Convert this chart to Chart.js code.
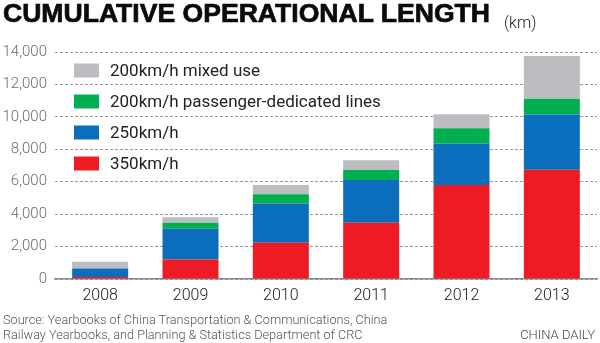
<!DOCTYPE html>
<html>
<head>
<meta charset="utf-8">
<script src="https://cdn.jsdelivr.net/npm/chart.js@4/dist/chart.umd.min.js"></script>
<style>
  html, body { margin: 0; padding: 0; background: #fff; }
  #wrap { position: relative; width: 600px; height: 343px; overflow: hidden; }
  #chart { position: absolute; left: 0; top: 0; }
  #title { position: absolute; left: 3px; top: -2px; white-space: nowrap; line-height: 30px;
           font-family: "Liberation Sans", Arial, sans-serif;
           font-weight: 700; font-size: 26px; color: #0a0a0a;
           -webkit-text-stroke: 0.7px #0a0a0a; transform-origin: 0 0; }
  #unit { position: absolute; left: 504px; top: 13px; font-family: Roboto, sans-serif;
          font-weight: 300; font-size: 16px; color: #222; }
  #source { position: absolute; left: 3px; top: 312px; font-family: Roboto, sans-serif;
            font-weight: 300; font-size: 12.7px; line-height: 15px; color: #555; }
  #brand { position: absolute; right: 5px; top: 327px; font-family: Roboto, sans-serif;
           font-weight: 300; font-size: 13px; line-height: 15px; color: #444; }
</style>
</head>
<body>
<div id="wrap">
  <canvas id="chart" width="600" height="343"></canvas>
  <div id="title">CUMULATIVE OPERATIONAL LENGTH</div>
  <div id="unit">(km)</div>
  <div id="source">Source: Yearbooks of China Transportation &amp; Communications, China<br>Railway Yearbooks, and Planning &amp; Statistics Department of CRC</div>
  <div id="brand">CHINA DAILY</div>
</div>
<script>
// Données (km)
const years = ['2008', '2009', '2010', '2011', '2012', '2013'];
const speed350 = [120, 1200, 2230, 3470, 5790, 6740];
const speed250 = [530, 1900, 2430, 2630, 2570, 3410];
const passenger200 = [0, 370, 560, 620, 940, 970];
const mixed200 = [410, 345, 570, 600, 860, 2630];
const yTicks = [0, 2000, 4000, 6000, 8000, 10000, 12000, 14000];

// Ajuster le titre à la largeur voulue
const title = document.getElementById('title');
const tw = title.getBoundingClientRect().width;
title.style.transform = 'scaleX(' + (487 / tw) + ')';

// Légende dessinée dans la zone du graphique
const legendInside = {
    id: 'legendInside',
    afterDraw(chart) {
        const ctx = chart.ctx;
        const items = chart.data.datasets.slice().reverse();
        ctx.save();
        ctx.font = '17px Roboto, sans-serif';
        ctx.textBaseline = 'middle';
        items.forEach((ds, i) => {
            const y = 70.5 + i * 31;
            ctx.fillStyle = ds.backgroundColor;
            ctx.fillRect(74, y - 7, 25, 14);
            ctx.fillStyle = '#222';
            ctx.fillText(ds.label, 110, y + 1);
        });
        ctx.restore();
    }
};

const ctx = document.getElementById('chart').getContext('2d');
new Chart(ctx, {
    type: 'bar',
    data: {
        labels: years,
        datasets: [
            { label: '350km/h', data: speed350, backgroundColor: '#ED1C24' },
            { label: '250km/h', data: speed250, backgroundColor: '#0A6EBD' },
            { label: '200km/h passenger-dedicated lines', data: passenger200, backgroundColor: '#00B04F' },
            { label: '200km/h mixed use', data: mixed200, backgroundColor: '#BCBDC0' }
        ]
    },
    options: {
        responsive: false,
        animation: false,
        layout: { padding: { top: 52, right: 3, bottom: 38, left: 0 } },
        plugins: { legend: { display: false }, tooltip: { enabled: false } },
        datasets: { bar: { categoryPercentage: 1, barPercentage: 0.62 } },
        scales: {
            x: {
                stacked: true,
                grid: { display: false, drawTicks: false },
                border: { display: true, color: '#8a8a8a', width: 1.5 },
                ticks: { padding: 7, color: '#222', font: { family: 'Roboto, sans-serif', weight: 300, size: 16 } },
                afterFit(scale) { scale.height = 26; }
            },
            y: {
                stacked: true,
                min: 0,
                max: 14000,
                afterBuildTicks(scale) { scale.ticks = yTicks.map(v => ({ value: v })); },
                grid: { color: '#9a9a9a', lineWidth: 1, drawTicks: false },
                border: { display: false, dash: [3, 2] },
                ticks: {
                    padding: 8,
                    color: '#6a6a74',
                    font: { family: 'Roboto, sans-serif', weight: 300, size: 15 },
                    callback: v => v.toLocaleString('en-US')
                },
                afterFit(scale) { scale.width = 55; }
            }
        }
    },
    plugins: [legendInside]
});
</script>
</body>
</html>
